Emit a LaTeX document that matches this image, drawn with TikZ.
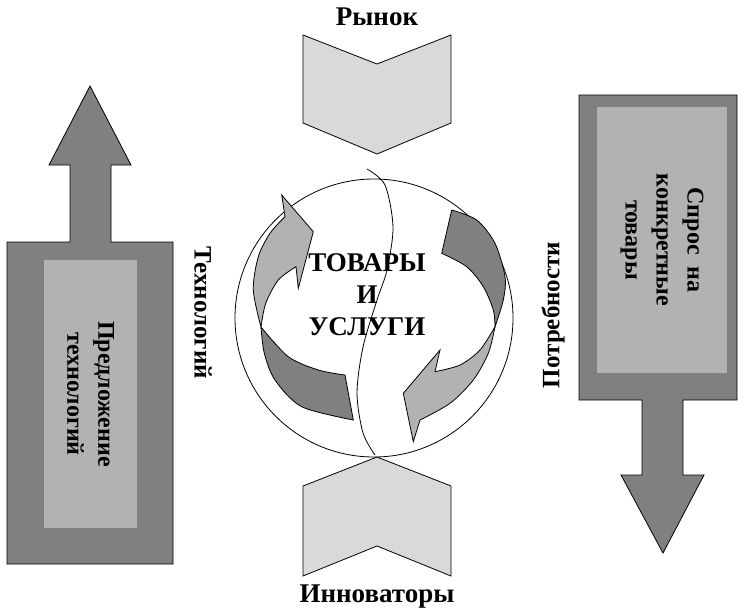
\documentclass[tikz,border=0pt]{standalone}
\usepackage{fontspec}
\setmainfont{Liberation Serif}
\definecolor{barGray}{HTML}{808080}
\definecolor{panelGray}{HTML}{B2B2B2}
\definecolor{chevGray}{HTML}{D9D9D9}

\begin{document}
\begin{tikzpicture}[x=1pt, y=-1pt,
  bar/.style={draw, line width=0.8pt, fill=barGray},
  panel/.style={fill=panelGray, inner sep=0pt, align=center, font=\bfseries\fontsize{24}{31}\selectfont},
  chevron/.style={draw, line width=0.8pt, fill=chevGray},
  band/.style={draw, line width=0.8pt},
  caption/.style={font=\bfseries\fontsize{27}{32}\selectfont, inner sep=0pt, align=center}
]
\useasboundingbox (0,0) rectangle (738,610);

% supply arrow (left) and demand arrow (right)
\path[bar] (7,242) -- (70,242) -- (70,165) -- (49,165) -- (90,86) -- (131,165) -- (111,165) -- (111,242) -- (173,242) -- (173,564) -- (7,564) -- cycle;
\path[bar] (579,95) -- (737,95) -- (737,400) -- (683,400) -- (683,475) -- (704,475) -- (663,553) -- (621,475) -- (642,475) -- (642,400) -- (579,400) -- cycle;
\node[panel, rotate=-90, minimum width=268pt, minimum height=93pt] (supply) at (90.5,394) {Предложение\\технологий};
\node[panel, rotate=-90, minimum width=266pt, minimum height=130pt] (demand) at (662,240) {Спрос~~на\\конкретные\\товары};

% market and innovators
\path[chevron] (303,35) -- (377,64) -- (451,35) -- (451,123) -- (377,154) -- (303,123) -- cycle;
\path[chevron] (377,457) -- (451,486) -- (451,576) -- (377,546) -- (303,576) -- (303,486) -- cycle;

% globe
\draw[line width=0.8pt] (374,318) circle[radius=139pt];

% left curved arrow
\path[band, fill=barGray] (261,327) -- plot[smooth] coordinates {(261,327) (264.3,353.3) (275,380) (301.7,406.7) (353.3,420)}
  -- (345,375) -- plot[smooth] coordinates {(345,375) (318.3,370) (288.3,356.7) (261,327)} -- cycle;
\path[band, fill=panelGray] (261,327) -- plot[smooth] coordinates {(261,327) (253.3,290) (258.3,256.7) (270,233.3) (285,216.7)}
  -- (281.7,195) -- (313.3,231.7) -- (298.3,288.3) -- (296,266.7)
  -- plot[smooth] coordinates {(296,266.7) (278.3,280) (265.7,303.3) (261,327)} -- cycle;

% right curved arrow
\path[band, fill=barGray] (451.7,210) -- plot[smooth] coordinates {(451.7,210) (476.7,220) (495,243.3) (505,276.7) (503.3,300) (495,326.7)}
  -- plot[smooth] coordinates {(495,326.7) (493.3,310) (483.3,286.7) (466.7,266.7) (441.7,253.3)} -- cycle;
\path[band, fill=panelGray] (495,326.7) -- plot[smooth] coordinates {(495,326.7) (488.3,353.3) (473.3,380) (450,403.3) (420,420)}
  -- (413.3,441.7) -- (403.3,393.3) -- (440,350) -- (435,371.7)
  -- plot[smooth] coordinates {(435,371.7) (460,365) (480,350) (495,326.7)} -- cycle;

% crack
\draw[line width=0.8pt] plot[smooth] coordinates {(367,169) (385,185) (393,227) (387,270) (377,300) (363,347) (357,393) (363,433) (375,455)};

\node[caption] (market) at (377,17) {Рынок};
\node[caption] (innovators) at (377,597) {Инноваторы};
\node[caption] (goods) at (367,295) {ТОВАРЫ\\И\\УСЛУГИ};
\node[caption, rotate=-90, font=\bfseries\fontsize{25}{30}\selectfont] (tech) at (203,313) {Технологий};
\node[caption, rotate=90, font=\bfseries\fontsize{25}{30}\selectfont] (needs) at (553,315) {Потребности};
\end{tikzpicture}
\end{document}
